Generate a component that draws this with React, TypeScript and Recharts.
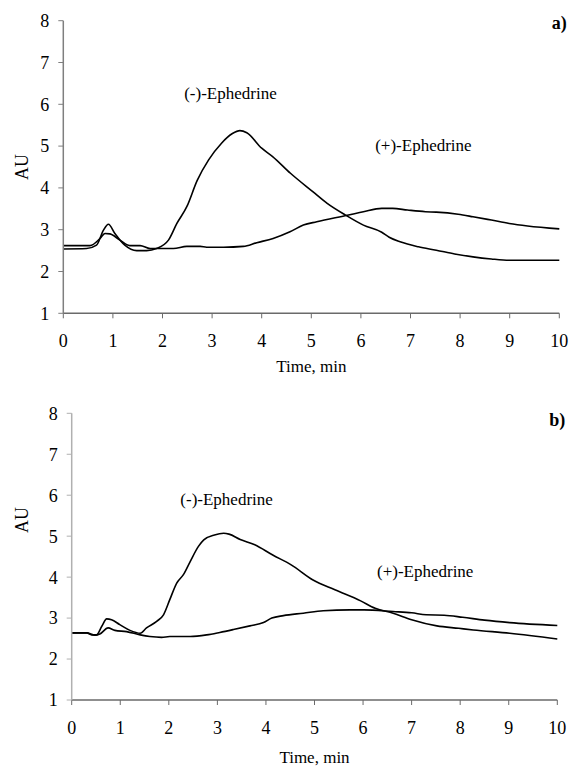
import React from "react";
import { LineChart, Line, XAxis, YAxis, ReferenceDot } from "recharts";

// ---- Data ----
const X_TICKS = [0, 1, 2, 3, 4, 5, 6, 7, 8, 9, 10];
const Y_TICKS = [1, 2, 3, 4, 5, 6, 7, 8];

// Panel a) (-)-Ephedrine
const A_MINUS_T = [0, 0.47, 0.67, 0.81, 0.91, 1.04, 1.24, 1.48, 1.68, 1.88, 2.12, 2.29, 2.49, 2.7, 2.93, 3.19, 3.41, 3.56, 3.7, 4.0, 4.22, 4.58, 5.03, 5.32, 5.69, 6.05, 6.42, 6.57, 6.79, 7.16, 7.52, 7.89, 8.26, 8.63, 8.99, 10];
const A_MINUS_V = [2.54, 2.55, 2.63, 2.99, 3.13, 2.91, 2.63, 2.5, 2.5, 2.55, 2.75, 3.15, 3.55, 4.18, 4.67, 5.07, 5.3, 5.37, 5.32, 4.95, 4.75, 4.35, 3.91, 3.63, 3.35, 3.11, 2.94, 2.82, 2.71, 2.59, 2.51, 2.42, 2.35, 2.3, 2.27, 2.27];
// Panel a) (+)-Ephedrine
const A_PLUS_T = [0, 0.54, 0.74, 0.84, 0.94, 1.14, 1.34, 1.55, 1.75, 2.22, 2.49, 2.76, 2.89, 3.23, 3.63, 3.9, 4.23, 4.57, 4.84, 5.11, 5.75, 6.05, 6.42, 6.64, 6.94, 7.3, 7.52, 7.96, 8.26, 8.63, 8.99, 9.36, 10];
const A_PLUS_V = [2.62, 2.62, 2.79, 2.91, 2.9, 2.75, 2.62, 2.62, 2.55, 2.55, 2.6, 2.6, 2.58, 2.58, 2.6, 2.69, 2.79, 2.95, 3.11, 3.19, 3.35, 3.43, 3.51, 3.51, 3.47, 3.43, 3.42, 3.37, 3.31, 3.23, 3.15, 3.09, 3.02];

// Panel b) (-)-Ephedrine
const B_MINUS_T = [0, 0.31, 0.41, 0.51, 0.62, 0.72, 0.82, 0.99, 1.2, 1.41, 1.54, 1.75, 1.89, 2.02, 2.16, 2.3, 2.44, 2.61, 2.72, 2.94, 3.13, 3.24, 3.47, 3.77, 4.14, 4.52, 4.97, 5.42, 5.95, 6.25, 6.62, 7.0, 7.52, 7.97, 8.27, 9.02, 10];
const B_MINUS_V = [2.64, 2.64, 2.59, 2.59, 2.8, 2.98, 2.96, 2.84, 2.7, 2.63, 2.76, 2.92, 3.08, 3.45, 3.85, 4.06, 4.38, 4.75, 4.91, 5.03, 5.07, 5.05, 4.92, 4.79, 4.54, 4.3, 3.93, 3.69, 3.42, 3.24, 3.12, 2.96, 2.81, 2.75, 2.71, 2.63, 2.49];
// Panel b) (+)-Ephedrine
const B_PLUS_T = [0, 0.31, 0.48, 0.58, 0.75, 0.89, 1.13, 1.41, 1.61, 1.85, 2.02, 2.44, 2.78, 3.05, 3.33, 3.67, 3.95, 4.12, 4.36, 4.77, 5.18, 5.73, 6.02, 6.62, 7.0, 7.3, 7.67, 8.05, 8.5, 9.02, 10];
const B_PLUS_V = [2.64, 2.64, 2.58, 2.61, 2.76, 2.7, 2.67, 2.59, 2.55, 2.53, 2.55, 2.55, 2.59, 2.65, 2.72, 2.81, 2.89, 3.0, 3.06, 3.12, 3.18, 3.2, 3.2, 3.16, 3.13, 3.08, 3.07, 3.02, 2.95, 2.89, 2.82];

// Annotation positions (data coordinates)
const A_LABELS = [
  { x: 3.37, y: 6.26, text: "(-)-Ephedrine" },
  { x: 7.26, y: 5.03, text: "(+)-Ephedrine" },
];
const B_LABELS = [
  { x: 3.19, y: 5.91, text: "(-)-Ephedrine" },
  { x: 7.28, y: 4.14, text: "(+)-Ephedrine" },
];

const zip = (t: number[], v: number[]) => t.map((x, i) => ({ t: x, v: v[i] }));

const FONT = "Liberation Serif";

type PanelProps = {
  width: number;
  height: number;
  margin: { top: number; right: number; left: number; bottom: number };
  yAxisWidth: number;
  minus: { t: number; v: number }[];
  plus: { t: number; v: number }[];
  labels: { x: number; y: number; text: string }[];
  tag: string;
  tagY: number;
  yAxisColor: string;
  xAxisColor: string;
  auFrac: number;
  timeDy: number;
};

const Panel = (p: PanelProps) => {
  const tickStyle = { fontFamily: FONT, fontSize: 18, fill: "#000", style: { fontFamily: FONT } };
  return (
    <LineChart width={p.width} height={p.height} margin={p.margin} style={{ fontFamily: FONT }}>
      <XAxis
        dataKey="t"
        type="number"
        domain={[0, 10]}
        ticks={X_TICKS}
        allowDuplicatedCategory={false}
        height={30}
        tickSize={5}
        tickMargin={16}
        axisLine={{ stroke: p.xAxisColor, strokeWidth: 1.5 }}
        tickLine={{ stroke: p.xAxisColor, strokeWidth: 1 }}
        tick={tickStyle}
        label={(props: any) => {
          const vb = props.viewBox || {};
          return (
            <text
              x={vb.x + vb.width / 2}
              y={vb.y + p.timeDy}
              textAnchor="middle"
              style={{ fontFamily: FONT, fontSize: 17 }}
              fill="#000"
            >
              Time, min
            </text>
          );
        }}
      />
      <YAxis
        type="number"
        domain={[1, 8]}
        ticks={Y_TICKS}
        width={p.yAxisWidth}
        tickSize={5}
        tickMargin={9}
        axisLine={{ stroke: p.yAxisColor, strokeWidth: 1.5 }}
        tickLine={{ stroke: p.yAxisColor, strokeWidth: 1 }}
        tick={tickStyle}
        label={(props: any) => {
          const vb = props.viewBox || {};
          const cx = vb.x + 22;
          const cy = vb.y + vb.height * p.auFrac;
          return (
            <text
              x={cx}
              y={cy}
              transform={`rotate(-90, ${cx}, ${cy})`}
              textAnchor="middle"
              dominantBaseline="central"
              style={{ fontFamily: FONT, fontSize: 18 }}
              fill="#000"
            >
              AU
            </text>
          );
        }}
      />
      <Line
        data={p.minus}
        dataKey="v"
        type="monotone"
        stroke="#000"
        strokeWidth={1.6}
        dot={false}
        isAnimationActive={false}
      />
      <Line
        data={p.plus}
        dataKey="v"
        type="monotone"
        stroke="#000"
        strokeWidth={1.6}
        dot={false}
        isAnimationActive={false}
      />
      {p.labels.map((l) => (
        <ReferenceDot
          key={l.text}
          x={l.x}
          y={l.y}
          r={0}
          fill="none"
          stroke="none"
          ifOverflow="visible"
          label={{ value: l.text, position: "center", fontSize: 17, fill: "#000", style: { fontFamily: FONT } }}
        />
      ))}
      <ReferenceDot
        x={10}
        y={p.tagY}
        r={0}
        fill="none"
        stroke="none"
        ifOverflow="visible"
        label={{ value: p.tag, position: "center", fontSize: 18, fontWeight: "bold", fill: "#000", style: { fontFamily: FONT } }}
      />
    </LineChart>
  );
};

export default function App() {
  return (
    <div style={{ position: "absolute", left: 0, top: 0, width: 571, height: 770, background: "#fff", fontFamily: FONT }}>
      <div style={{ position: "absolute", left: 0, top: 0 }}>
        <Panel
          width={571}
          height={380}
          margin={{ top: 20.7, right: 11.7, left: 0, bottom: 36.7 }}
          yAxisWidth={63.3}
          minus={zip(A_MINUS_T, A_MINUS_V)}
          plus={zip(A_PLUS_T, A_PLUS_V)}
          labels={A_LABELS}
          tag="a)"
          tagY={7.95}
          yAxisColor="#7f7f7f"
          xAxisColor="#6a6a6a"
          auFrac={0.5}
          timeDy={58.5}
        />
      </div>
      <div style={{ position: "absolute", left: 0, top: 380 }}>
        <Panel
          width={571}
          height={390}
          margin={{ top: 33.3, right: 13.7, left: 0, bottom: 40 }}
          yAxisWidth={71.7}
          minus={zip(B_MINUS_T, B_MINUS_V)}
          plus={zip(B_PLUS_T, B_PLUS_V)}
          labels={B_LABELS}
          tag="b)"
          tagY={7.84}
          yAxisColor="#b0b0b0"
          xAxisColor="#6a6a6a"
          auFrac={0.372}
          timeDy={62.5}
        />
      </div>
    </div>
  );
}
